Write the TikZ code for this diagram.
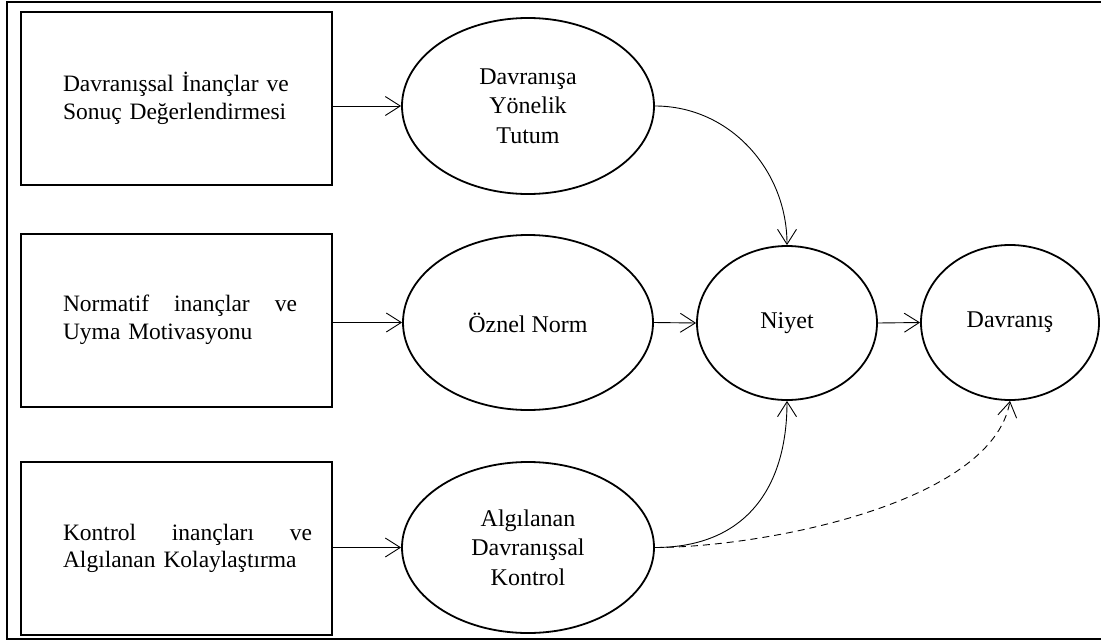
\documentclass[tikz,border=0pt]{standalone}
\usepackage{fontspec}
\setmainfont{Liberation Serif}
\usepackage{tikz}
\usetikzlibrary{arrows.meta,positioning,shapes.geometric}

% line spread to a given width, sticking out to the right
\newcommand{\wline}[2]{\makebox[0pt][l]{\hbox to #1{#2}}}

\begin{document}
\begin{tikzpicture}[x=1pt,y=-1pt,
  inbox/.style={draw,line width=2pt,minimum width=311pt,minimum height=173pt,text width=227pt,align=left,font=\fontsize{23.5}{27.5}\selectfont},
  oval/.style={draw,ellipse,line width=1.8pt,inner sep=0pt,align=center,font=\fontsize{24}{29.5}\selectfont},
  arr/.style={-{Straight Barb[length=15pt,width=19pt]},line width=0.9pt}
]
  \useasboundingbox (0,0) rectangle (1101,643);
  \draw[line width=2pt] (7,2) rectangle (1110,639);

  % belief boxes
  \node[inbox] (belbox) at (176.5,98.5) {\makebox[0pt][l]{Davranışsal İnançlar ve}\\Sonuç Değerlendirmesi};
  \node[inbox] (normbox) at (176.5,320) {\wline{234pt}{Normatif\hfill inançlar\hfill ve}\\Uyma Motivasyonu};
  \node[inbox] (ctrlbox) at (176.5,548.5) {\wline{249pt}{Kontrol\hfill inançları\hfill ve}\\\makebox[0pt][l]{Algılanan Kolaylaştırma}};

  % constructs
  \node[oval,minimum width=252pt,minimum height=176pt] (att) at (528,106) {Davranışa\\Yönelik\\Tutum};
  \node[oval,minimum width=250pt,minimum height=175pt] (sn) at (528,322.5) {Öznel Norm};
  \node[oval,minimum width=252pt,minimum height=171pt] (pbc) at (528,547.5) {Algılanan\\Davranışsal\\Kontrol};
  \node[oval,minimum width=180pt,minimum height=154pt] (niyet) at (787,323) {Niyet};
  \node[oval,minimum width=178pt,minimum height=155pt] (dav) at (1010,322.5) {Davranış};

  \draw[arr] (belbox.east |- att.west) -- (att.west);
  \draw[arr] (normbox.east |- sn.west) -- (sn.west);
  \draw[arr] (ctrlbox.east |- pbc.west) -- (pbc.west);
  \draw[arr] (sn.east) -- (niyet.west);
  \draw[arr] (niyet.east) -- (dav.west);
  \draw[arr] (att.east) to[out=0,in=90] (niyet.north);
  \draw[arr] (pbc.east) to[out=0,in=-90,looseness=1.15] (niyet.south);
  \draw[arr,dash pattern=on 7pt off 5pt] (pbc.east) to[out=0,in=-100,looseness=0.7] (dav.south);
\end{tikzpicture}
\end{document}
